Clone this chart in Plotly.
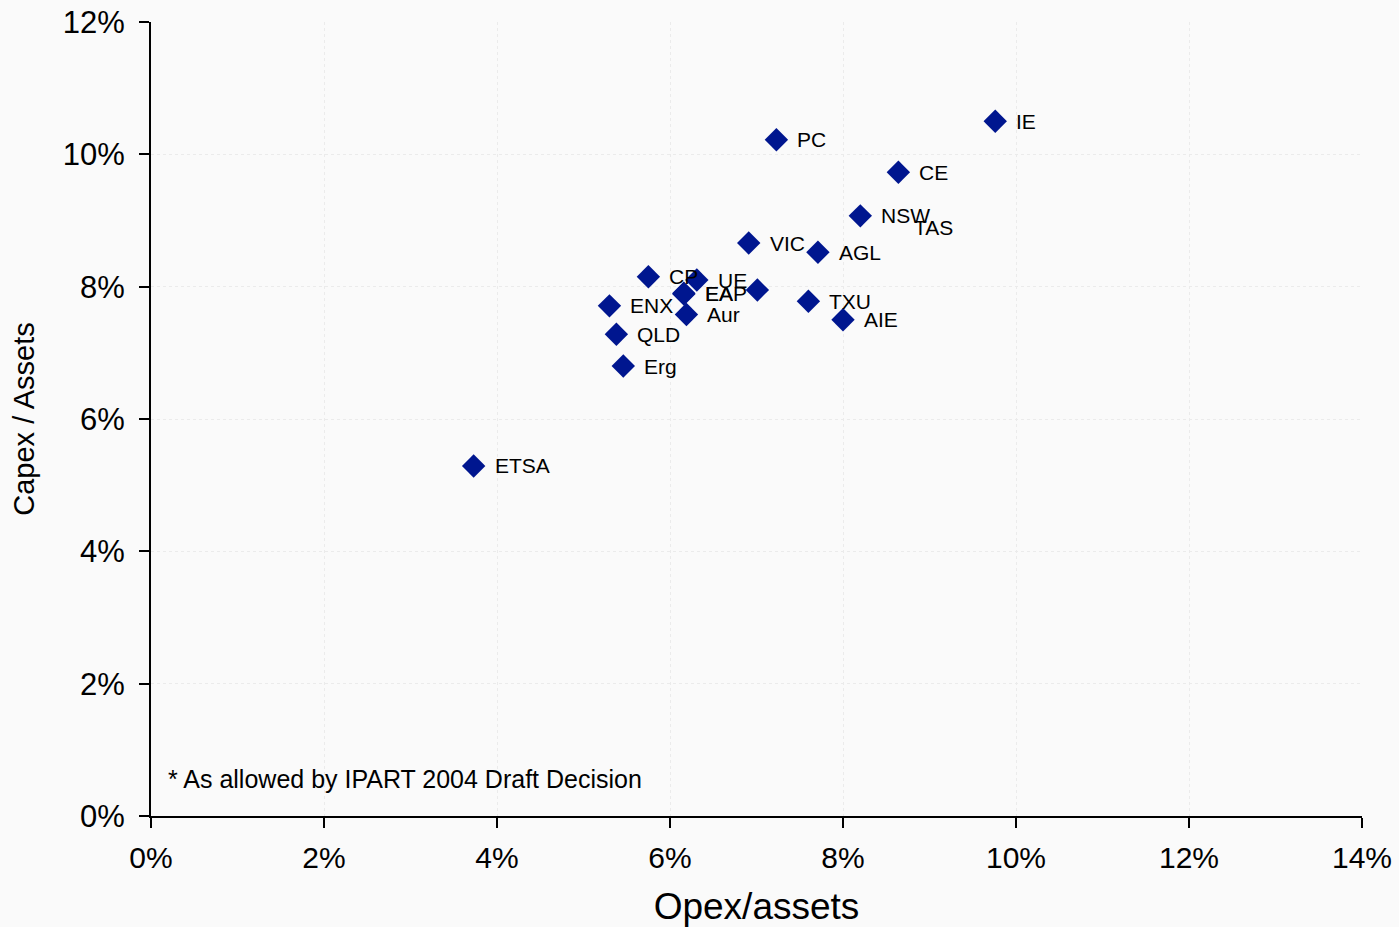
import plotly.graph_objects as go

# Data (percent values)
names = ["IE", "PC", "CE", "NSW", "VIC", "AGL", "CP", "UE", "EA", "EAP",
         "TAS", "Aur", "ENX", "QLD", "Erg", "TXU", "AIE", "ETSA"]
opex = [9.76, 7.23, 8.64, 8.20, 6.91, 7.71, 5.75, 6.31, 6.16, 6.16,
        7.01, 6.19, 5.30, 5.38, 5.46, 7.60, 8.00, 3.73]
capex = [10.50, 10.22, 9.73, 9.07, 8.66, 8.52, 8.15, 8.10, 7.89, 7.90,
         7.95, 7.58, 7.71, 7.28, 6.80, 7.78, 7.50, 5.29]

x_ticks = [0, 2, 4, 6, 8, 10, 12, 14]
x_tick_labels = ["0%", "2%", "4%", "6%", "8%", "10%", "12%", "14%"]
y_ticks = [0, 2, 4, 6, 8, 10, 12]
y_tick_labels = ["0%", "2%", "4%", "6%", "8%", "10%", "12%"]

footnote = "* As allowed by IPART 2004 Draft Decision"

FONT = "Arial, 'Liberation Sans', sans-serif"
BG = "#fafafa"
MARKER = "#00168f"

fig = go.Figure()
fig.add_trace(go.Scatter(
    x=opex, y=capex, mode="markers",
    marker=dict(symbol="diamond", size=18, color=MARKER, line=dict(width=0)),
    hoverinfo="skip", showlegend=False,
))

# labels: moved label for TAS (dragged away from its point in the original)
moved = {"TAS": (155, 62)}
annotations = []
for n, xv, yv in zip(names, opex, capex):
    dx, dy = moved.get(n, (19, 0))
    annotations.append(dict(
        x=xv, y=yv, xref="x", yref="y", text=n, showarrow=False,
        xanchor="left", yanchor="middle", xshift=dx, yshift=dy,
        font=dict(family=FONT, size=21, color="black"),
    ))

annotations.append(dict(
    x=0.0124, y=0.0466, xref="paper", yref="paper", text=footnote,
    showarrow=False, xanchor="left", yanchor="middle",
    font=dict(family=FONT, size=25, color="black"),
))

fig.update_layout(
    width=1399, height=927, autosize=False,
    margin=dict(l=151, r=37, t=22, b=111, pad=0, autoexpand=False),
    paper_bgcolor=BG, plot_bgcolor=BG,
    font=dict(family=FONT, color="black"),
    annotations=annotations,
    xaxis=dict(
        range=[0, 14], tickvals=x_ticks, ticktext=x_tick_labels,
        ticks="outside", ticklen=10, tickwidth=2, tickcolor="black",
        showline=True, linecolor="black", linewidth=2, mirror=False,
        showgrid=True, gridcolor="#ebebeb", griddash="dot", gridwidth=1,
        zeroline=False, tickfont=dict(size=30), ticklabelstandoff=4,
        automargin=False,
        title=dict(text="Opex/assets", font=dict(size=37), standoff=23),
    ),
    yaxis=dict(
        range=[0, 12], tickvals=y_ticks, ticktext=y_tick_labels,
        ticks="outside", ticklen=10, tickwidth=2, tickcolor="black",
        showline=True, linecolor="black", linewidth=2, mirror=False,
        showgrid=True, gridcolor="#ebebeb", griddash="dot", gridwidth=1,
        zeroline=False, tickfont=dict(size=31), ticklabelstandoff=8,
        automargin=False,
        title=dict(text="Capex / Assets", font=dict(size=29), standoff=20),
    ),
)

fig.write_html(
    "out.html",
    config={"displayModeBar": False},
    post_script="document.body.style.margin='0';document.body.style.overflow='hidden';"
                "document.body.style.background='%s';" % BG,
)
